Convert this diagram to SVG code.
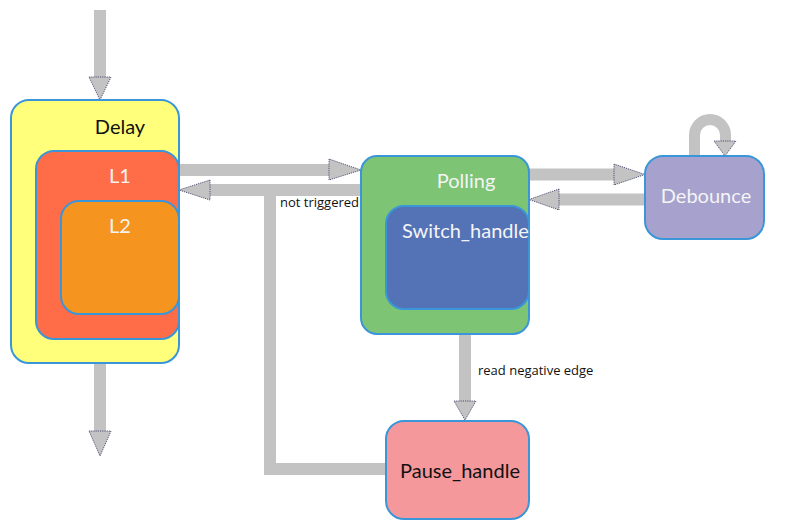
<svg xmlns="http://www.w3.org/2000/svg" width="785" height="530" viewBox="0 0 785 530">
<defs>
<style>
.node{stroke:#3a96d8;stroke-width:2}
.shaft{fill:none;stroke:#c3c3c3;stroke-width:12}
.head{fill:#c3c3c3;stroke:#2e3160;stroke-width:0.8;stroke-dasharray:1.2,1}
.lbl{font-family:Lato,"Open Sans",sans-serif;font-size:20px}
.w{fill:#f4f4f4}
.k{fill:#111111}
.edge{font-family:"Open Sans","Liberation Sans",sans-serif;font-size:13px;fill:#111111}
</style>
</defs>
<rect width="785" height="530" fill="#ffffff"/>
<g id="connectors">
<!-- initial -->
<line class="shaft" x1="100" y1="10" x2="100" y2="78"/>
<polygon class="head" points="89,77 111,77 100,100"/>
<!-- exit -->
<line class="shaft" x1="100" y1="363" x2="100" y2="432"/>
<polygon class="head" points="89,431 111,431 100,456"/>
<!-- Delay to Polling -->
<line class="shaft" x1="179" y1="170" x2="330" y2="170"/>
<polygon class="head" points="329,159 329,180 361,170"/>
<!-- Polling to Delay -->
<line class="shaft" x1="361" y1="190" x2="209" y2="190"/>
<polygon class="head" points="210,180 210,200 179,190"/>
<!-- Pause to Delay path -->
<polyline class="shaft" points="387,469 270,469 270,190"/>
<!-- Polling to Debounce -->
<line class="shaft" x1="529" y1="174.5" x2="615" y2="174.5"/>
<polygon class="head" points="614,164 614,185 645,174.5"/>
<!-- Debounce to Polling -->
<line class="shaft" x1="645" y1="199.5" x2="558" y2="199.5"/>
<polygon class="head" points="559,189 559,210 529,199.5"/>
<!-- Debounce self loop -->
<path d="M694.5,156 L694.5,135 A15.5,15.5 0 0 1 725.5,135 L725.5,142" fill="none" stroke="#c3c3c3" stroke-width="11"/>
<polygon class="head" points="714,141 736,141 725,156"/>
<!-- Polling to Pause -->
<line class="shaft" x1="465" y1="334" x2="465" y2="402"/>
<polygon class="head" points="454,401 476,401 465,420"/>
<text class="edge" x="280" y="207">not triggered</text>
<text class="edge" x="478" y="375">read negative edge</text>
</g>
<g id="Delay">
<rect class="node" x="11" y="100" width="168" height="263" rx="18" fill="#ffff7c"/>
<text class="lbl k" x="120" y="134" text-anchor="middle">Delay</text>
</g>
<g id="L1">
<rect class="node" x="36" y="151" width="143" height="188" rx="18" fill="#ff6c48"/>
<text class="lbl w" x="120" y="183" text-anchor="middle">L1</text>
</g>
<g id="L2">
<rect class="node" x="61" y="201" width="118" height="113" rx="18" fill="#f5941f"/>
<text class="lbl w" x="120" y="233" text-anchor="middle">L2</text>
</g>
<g id="Polling">
<rect class="node" x="361" y="156" width="168" height="178" rx="16" fill="#7dc474"/>
<text class="lbl w" x="466" y="188" text-anchor="middle">Polling</text>
</g>
<g id="Switch_handle">
<rect class="node" x="386" y="206" width="143" height="103" rx="18" fill="#5472b6"/>
<text class="lbl w" x="402" y="238">Switch_handle</text>
</g>
<g id="Debounce">
<rect class="node" x="645" y="156" width="119" height="83" rx="18" fill="#a6a1cd"/>
<text class="lbl w" x="706" y="203" text-anchor="middle">Debounce</text>
</g>
<g id="Pause_handle">
<rect class="node" x="386" y="421" width="143" height="98" rx="18" fill="#f4989b"/>
<text class="lbl k" x="460" y="478" text-anchor="middle">Pause_handle</text>
</g>
</svg>
